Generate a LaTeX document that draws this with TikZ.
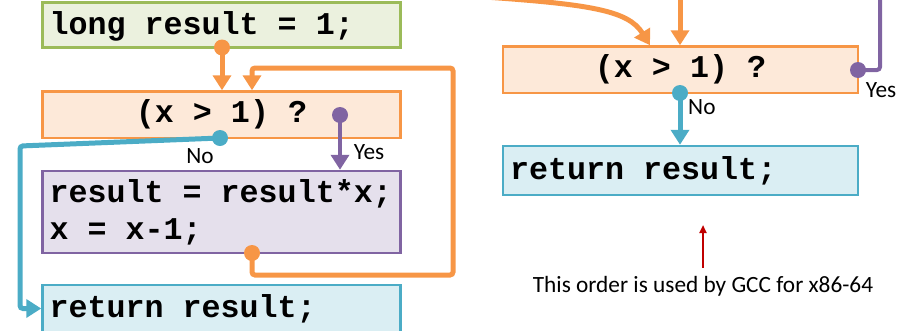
\documentclass[tikz,border=0pt]{standalone}
\usepackage{fontspec}
\setmainfont{Carlito}
\setmonofont{Liberation Mono}[BoldFont={Liberation Mono Bold}]
\usetikzlibrary{arrows.meta}

\definecolor{cOrange}{HTML}{F79646}
\definecolor{cOrangeFill}{HTML}{FDE9D9}
\definecolor{cGreen}{HTML}{9BBB59}
\definecolor{cGreenFill}{HTML}{EBF1DE}
\definecolor{cPurple}{HTML}{8064A2}
\definecolor{cPurpleFill}{HTML}{E5E0EC}
\definecolor{cTeal}{HTML}{4BACC6}
\definecolor{cTealFill}{HTML}{DAEEF3}
\definecolor{cRed}{HTML}{C00000}

% code lines set flush left in a box of fixed width (LR mode keeps full blanks)
\newcommand{\codeblock}[2]{\makebox[#1][l]{\begin{tabular}[t]{@{}l@{}}#2\end{tabular}}}

\tikzset{
  codebox/.style={draw, line width=2.5pt, inner xsep=7pt, inner ysep=0pt,
    font=\ttfamily\bfseries\fontsize{31.7}{37}\selectfont},
  listing/.style={codebox, text height=27.9pt, text depth=9.1pt},
  condbox/.style={codebox, draw=cOrange, fill=cOrangeFill},
  flow/.style={line width=5pt, -{Triangle[width=18pt,length=15pt]}},
  oline/.style={flow, draw=cOrange},
  tline/.style={flow, draw=cTeal},
  pline/.style={flow, line width=4pt, draw=cPurple},
  lbl/.style={font=\fontsize{23.3}{27}\selectfont, inner sep=0pt},
}

\begin{document}
\begin{tikzpicture}[x=1pt,y=-1pt]
\useasboundingbox (0,0) rectangle (909,330);

% ---- loop with the test at the top ----
\node[listing, draw=cGreen, fill=cGreenFill, minimum height=45pt] (init) at (221.5,25) {\codeblock{344pt}{long result = 1;}};
\node[condbox, minimum width=358pt, minimum height=46.5pt] (cond1) at (221.5,114.75) {(x > 1) ?};
\node[listing, text depth=46.1pt, draw=cPurple, fill=cPurpleFill, minimum height=82pt] (body) at (221.5,212) {\codeblock{344pt}{result = result*x;\\x = x-1;}};
\node[listing, draw=cTeal, fill=cTealFill, minimum height=47pt] (ret1) at (221.5,308.5) {\codeblock{344pt}{return result;}};

\coordinate (o1) at (222,47.5);
\coordinate (o2) at (252,253);
\coordinate (loopbr) at (453,275);
\coordinate (looptr) at (453,68);
\coordinate (p1) at (340,115);
\coordinate (t1) at (220,138);
\coordinate (tbend) at (20,146);

\draw[oline] (o1) -- (o1 |- cond1.north);
\draw[oline, rounded corners=3pt] (o2) |- (loopbr) -- (looptr) -| (o2 |- cond1.north);
\draw[pline] (p1) -- (p1 |- body.north);
\draw[tline, rounded corners=3pt] (t1) -- (tbend) |- (ret1.west);

\fill[cOrange] (o1) circle (8pt) (o2) circle (8pt);
\fill[cPurple] (p1) circle (8pt);
\fill[cTeal] (t1) circle (8pt);

\node[lbl] (yes1) at (369,152) {Yes};
\node[lbl] (no1) at (200,156) {No};

% ---- test placed after the body ----
\node[condbox, minimum width=355pt, minimum height=46.5pt] (cond2) at (680.5,69.75) {(x > 1) ?};
\node[listing, draw=cTeal, fill=cTealFill, minimum height=49pt] (ret2) at (680.5,170.5) {\codeblock{341pt}{return result;}};

\coordinate (cstart) at (470,-4);
\coordinate (vtop) at (680,-4);
\coordinate (p2) at (858,70);
\coordinate (ptop) at (880,-4);
\coordinate (t2) at (680,93);

\draw[oline] (cstart) .. controls (590,4) and (628,10) .. ([xshift=-30.5pt]cond2.north);
\draw[oline] (vtop) -- (vtop |- cond2.north);
\draw[line width=4pt, cPurple, rounded corners=3pt] (p2) -| (ptop);
\draw[tline] (t2) -- (t2 |- ret2.north);

\fill[cPurple] (p2) circle (8pt);
\fill[cTeal] (t2) circle (8pt);

\node[lbl] (yes2) at (881,90) {Yes};
\node[lbl, anchor=west] (no2) at (688,107) {No};

\node[lbl] (note) at (703,286) {This order is used by GCC for x86-64};
\coordinate (rtip) at (703,225);
\draw[cRed, line width=2pt, -{Triangle[width=7pt,length=8pt]}] ([yshift=8pt]note.north) -- (rtip);
\end{tikzpicture}
\end{document}
